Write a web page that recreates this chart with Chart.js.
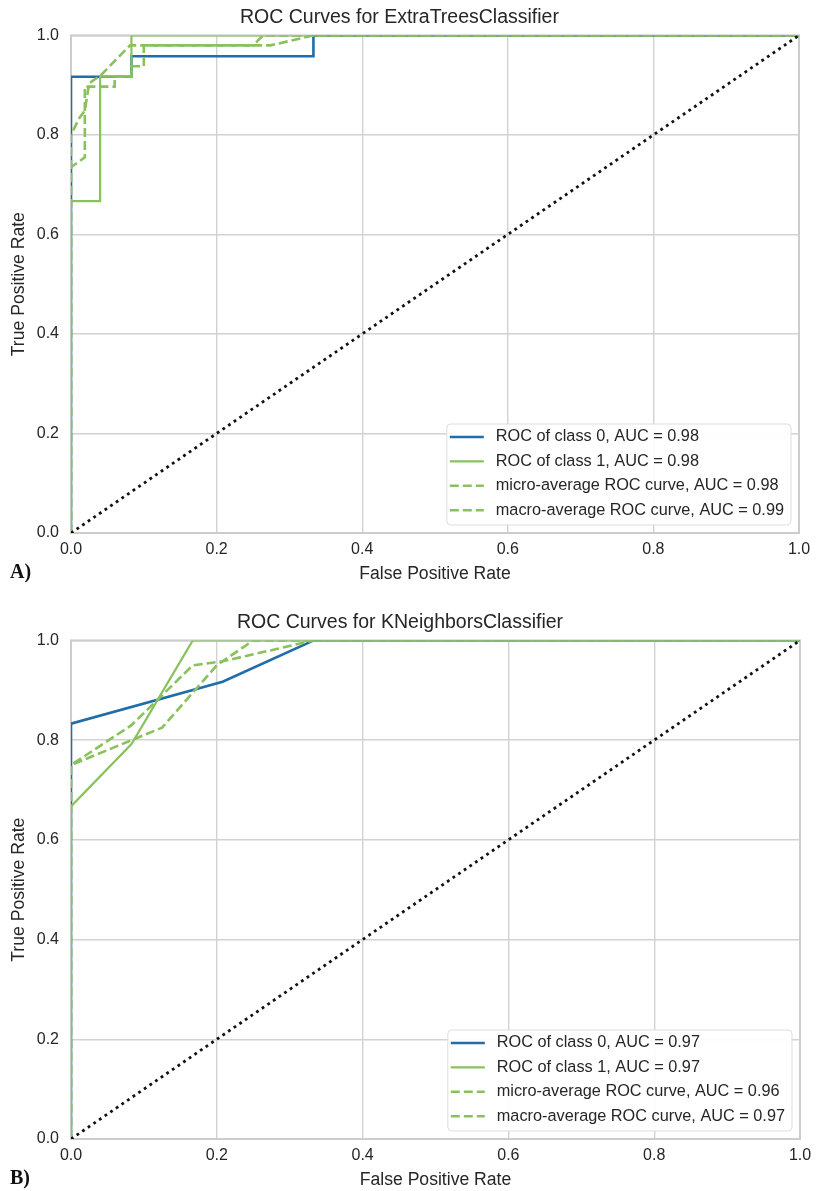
<!DOCTYPE html>
<html>
<head>
<meta charset="utf-8">
<script src="https://cdn.jsdelivr.net/npm/chart.js@4.4.1/dist/chart.umd.min.js"></script>
<style>
  html, body { margin: 0; padding: 0; background: #fff; }
  body { width: 819px; height: 1191px; position: relative; overflow: hidden; }
  .box { position: absolute; left: 0; width: 819px; }
  #boxA { top: 0; height: 605px; }
  #boxB { top: 605px; height: 586px; }
  .tag { position: absolute; left: 10px; font: bold 20px "Liberation Serif", serif; color: #111; }
</style>
</head>
<body>
<div class="box" id="boxA"><canvas id="chartA"></canvas></div>
<div class="box" id="boxB"><canvas id="chartB"></canvas></div>
<div class="tag" style="top:560px">A)</div>
<div class="tag" style="top:1166px">B)</div>
<script>
// axis ticks shared by both plots
const axisTicks = [0, 0.2, 0.4, 0.6, 0.8, 1.0];
const tickLabels = ["0.0", "0.2", "0.4", "0.6", "0.8", "1.0"];

// chance line
const diagX = [0, 1];
const diagY = [0, 1];

// A) ExtraTreesClassifier
const etClass0Fpr = [0, 0, 0.083, 0.083, 0.333, 0.333, 1];
const etClass0Tpr = [0, 0.917, 0.917, 0.958, 0.958, 1, 1];
const etClass1Fpr = [0, 0, 0.04, 0.04, 0.083, 0.083, 1];
const etClass1Tpr = [0, 0.667, 0.667, 0.917, 0.917, 1, 1];
const etMicroFpr = [0, 0, 0.019, 0.019, 0.06, 0.06, 0.083, 0.083, 0.1, 0.1, 0.274, 0.333, 1];
const etMicroTpr = [0, 0.735, 0.755, 0.897, 0.897, 0.917, 0.917, 0.938, 0.938, 0.98, 0.98, 1, 1];
const etMacroFpr = [0, 0, 0.011, 0.019, 0.025, 0.041, 0.081, 0.25, 0.264, 1];
const etMacroTpr = [0, 0.8, 0.833, 0.849, 0.904, 0.92, 0.98, 0.98, 1, 1];
const etLabels = [
  "ROC of class 0, AUC = 0.98",
  "ROC of class 1, AUC = 0.98",
  "micro-average ROC curve, AUC = 0.98",
  "macro-average ROC curve, AUC = 0.99",
];

// B) KNeighborsClassifier
const knClass0Fpr = [0, 0, 0.208, 0.333, 1];
const knClass0Tpr = [0, 0.833, 0.917, 1, 1];
const knClass1Fpr = [0, 0, 0.083, 0.167, 1];
const knClass1Tpr = [0, 0.667, 0.792, 1, 1];
const knMicroFpr = [0, 0, 0.125, 0.2, 0.25, 1];
const knMicroTpr = [0, 0.75, 0.825, 0.95, 1, 1];
const knMacroFpr = [0, 0, 0.083, 0.167, 0.208, 0.333, 1];
const knMacroTpr = [0, 0.75, 0.83, 0.95, 0.958, 1, 1];
const knLabels = [
  "ROC of class 0, AUC = 0.97",
  "ROC of class 1, AUC = 0.97",
  "micro-average ROC curve, AUC = 0.96",
  "macro-average ROC curve, AUC = 0.97",
];

const BLUE = "#1f6dab";
const GREEN = "#89c15d";
const TEXT = "#262626";
const FONT = '"Liberation Sans", Arial, sans-serif';

Chart.defaults.font.family = FONT;
Chart.defaults.color = TEXT;

const pts = (xs, ys) => xs.map((x, i) => ({ x: x, y: ys[i] }));

// grey frame round the plot area
const frame = {
  id: "frame",
  beforeDatasetsDraw(chart) {
    const { ctx, chartArea: a } = chart;
    ctx.save();
    ctx.strokeStyle = "#cccccc";
    ctx.lineWidth = 2;
    ctx.strokeRect(a.left, a.top, a.right - a.left, a.bottom - a.top);
    ctx.restore();
  },
};

// matplotlib-like legend box in the lower right corner
const boxLegend = {
  id: "boxLegend",
  afterDatasetsDraw(chart, args, opts) {
    const { ctx, chartArea } = chart;
    const items = chart.data.datasets.filter((d) => d.label);
    ctx.save();
    ctx.font = "16.3px " + FONT;
    const textW = Math.max(...items.map((d) => ctx.measureText(d.label).width));
    const w = textW + 56;
    const h = 101;
    const x = chartArea.right - opts.inset - w;
    const y = chartArea.bottom - opts.inset - h;
    ctx.beginPath();
    if (ctx.roundRect) ctx.roundRect(x, y, w, h, 4);
    else ctx.rect(x, y, w, h);
    ctx.fillStyle = "rgba(255,255,255,0.92)";
    ctx.fill();
    ctx.strokeStyle = "#dddddd";
    ctx.lineWidth = 1;
    ctx.stroke();
    items.forEach((d, i) => {
      const cy = y + 13 + i * 24.4;
      ctx.beginPath();
      ctx.setLineDash(d.borderDash || []);
      ctx.strokeStyle = d.borderColor;
      ctx.lineWidth = d.borderWidth;
      ctx.moveTo(x + 3, cy);
      ctx.lineTo(x + 37, cy);
      ctx.stroke();
      ctx.setLineDash([]);
      ctx.fillStyle = TEXT;
      ctx.textBaseline = "middle";
      ctx.fillText(d.label, x + 49, cy);
    });
    ctx.restore();
  },
};

function rocChart(id, title, labels, curves, padBottom, padRight) {
  const styles = [
    { color: BLUE, dash: [], width: 2.6 },
    { color: GREEN, dash: [], width: 2.2 },
    { color: GREEN, dash: [9, 4], width: 2.6 },
    { color: GREEN, dash: [9, 4], width: 2.6 },
  ];
  const datasets = curves.map((c, i) => ({
    label: labels[i],
    data: pts(c[0], c[1]),
    borderColor: styles[i].color,
    borderDash: styles[i].dash,
    borderWidth: styles[i].width,
    order: 10 - i,
  }));
  datasets.push({
    data: pts(diagX, diagY),
    borderColor: "#111111",
    borderDash: [2.8, 4],
    borderWidth: 2.8,
    order: 1,
  });

  return new Chart(document.getElementById(id), {
    type: "line",
    data: { datasets: datasets },
    options: {
      responsive: true,
      maintainAspectRatio: false,
      animation: false,
      elements: { point: { radius: 0 }, line: { tension: 0, fill: false } },
      layout: { padding: { left: 0, right: padRight, top: 0, bottom: padBottom } },
      plugins: {
        legend: { display: false },
        tooltip: { enabled: false },
        title: {
          display: true,
          text: title,
          color: TEXT,
          font: { size: 19.5, weight: "normal" },
          padding: { top: 6, bottom: 6 },
        },
        boxLegend: { inset: 8 },
      },
      scales: {
        x: {
          type: "linear",
          min: 0,
          max: 1,
          afterBuildTicks: (s) => { s.ticks = axisTicks.map((v) => ({ value: v })); },
          afterFit: (s) => { s.height = 52; },
          ticks: { callback: (v, i) => tickLabels[i], font: { size: 16 }, color: TEXT, padding: 7, maxRotation: 0 },
          grid: { color: "#d2d2d2", lineWidth: 1.4, drawTicks: false },
          border: { display: false },
          title: { display: true, text: "False Positive Rate", color: TEXT, font: { size: 17.6 }, padding: { top: 0, bottom: 0 } },
        },
        y: {
          min: 0,
          max: 1,
          afterBuildTicks: (s) => { s.ticks = axisTicks.map((v) => ({ value: v })); },
          afterFit: (s) => { s.width = 71; },
          ticks: { callback: (v, i) => tickLabels[i], font: { size: 16 }, color: TEXT, padding: 12 },
          grid: { color: "#d2d2d2", lineWidth: 1.4, drawTicks: false },
          border: { display: false },
          title: { display: true, text: "True Positive Rate", color: TEXT, font: { size: 17.6 }, padding: { top: 9 } },
        },
      },
    },
    plugins: [frame, boxLegend],
  });
}

rocChart("chartA", "ROC Curves for ExtraTreesClassifier", etLabels, [
  [etClass0Fpr, etClass0Tpr],
  [etClass1Fpr, etClass1Tpr],
  [etMicroFpr, etMicroTpr],
  [etMacroFpr, etMacroTpr],
], 20, 20);

rocChart("chartB", "ROC Curves for KNeighborsClassifier", knLabels, [
  [knClass0Fpr, knClass0Tpr],
  [knClass1Fpr, knClass1Tpr],
  [knMicroFpr, knMicroTpr],
  [knMacroFpr, knMacroTpr],
], 0, 19);
</script>
</body>
</html>
